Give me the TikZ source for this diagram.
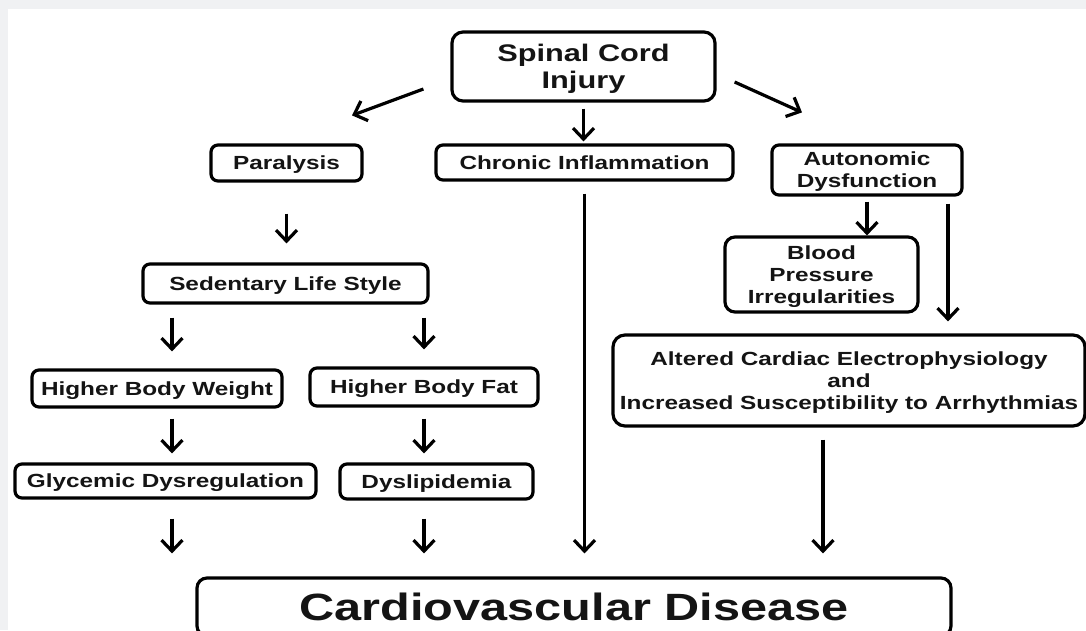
\documentclass[tikz,border=0pt]{standalone}
\usepackage{fontspec}
\setmainfont{Liberation Sans}[FakeStretch=1.28]
\usetikzlibrary{arrows.meta, positioning, calc}
\definecolor{pagegray}{RGB}{240,241,243}
\definecolor{inkgray}{RGB}{20,20,20}
\tikzset{
  causebox/.style={
    rectangle, rounded corners=7pt, draw=black, line width=3.2pt,
    inner sep=0pt, align=center, text=inkgray, text depth=0pt,
    font=\fontsize{19}{22}\selectfont\bfseries
  },
  causearrow/.style={-{Straight Barb[length=11pt,width=21pt]}, line width=3.2pt},
}

\begin{document}
\begin{tikzpicture}[x=1pt,y=-1pt]
  \useasboundingbox (0,0) rectangle (1086,630);
  \fill[pagegray] (0,0) rectangle (1086,630);
  \clip (0,0) rectangle (1086,630);
  \fill[white] (8,9) rectangle (1090,640);

  % arrow columns
  \coordinate (colA) at (172,0);
  \coordinate (colB) at (424,0);
  \coordinate (colD) at (823,0);
  \coordinate (colF) at (948,0);

  \node[causebox, rounded corners=11pt, minimum width=263pt, minimum height=69pt,
        font=\fontsize{24}{27}\selectfont\bfseries](sci)at(583.5,66.5){Spinal Cord\\Injury};
  \node[causebox, minimum width=151pt, minimum height=36pt](par)at(286.5,163)  {Paralysis};
  \node[causebox, minimum width=297pt, minimum height=35pt](chr)at(584.5,162.5){Chronic Inflammation};
  \node[causebox, minimum width=190pt, minimum height=50pt](aut)at(867,170)    {Autonomic\\Dysfunction};
  \node[causebox, rounded corners=10pt, minimum width=193pt, minimum height=75pt](bpi)at(821.5,274.5){Blood\\Pressure\\Irregularities};
  \node[causebox, rounded corners=12pt, minimum width=472pt, minimum height=91pt](alt)at(849,380.5)
       {Altered Cardiac Electrophysiology\\and\\Increased Susceptibility to Arrhythmias};
  \node[causebox, minimum width=285pt, minimum height=39pt](sed)at(285.5,283.5){Sedentary Life Style};
  \node[causebox, minimum width=250pt, minimum height=37pt](hbw)at(157,388.5)  {Higher Body Weight};
  \node[causebox, minimum width=228pt, minimum height=38pt](hbf)at(424,387)    {Higher Body Fat};
  \node[causebox, minimum width=301pt, minimum height=34pt](gly)at(165.5,481)  {Glycemic Dysregulation};
  \node[causebox, minimum width=193pt, minimum height=35pt](dys)at(436.5,481.5){Dyslipidemia};
  \node[causebox, rounded corners=10pt, minimum width=754pt, minimum height=58pt,
        font=\fontsize{38}{44}\selectfont\bfseries](cvd)at(574,607){Cardiovascular Disease};

  \draw[causearrow]($(sci.west)+(-27,22.5)$)--($(par.north)+(65.5,-28)$);
  \draw[causearrow]($(sci.east)+(18,15.5)$)--($(aut.north)+(-65,-31)$);
  \draw[causearrow,shorten <=6pt,shorten >=2pt](sci.south)--(sci.south |- chr.north);
  \draw[causearrow,shorten <=31pt,shorten >=19pt](par.south)--(par.south |- sed.north);
  \draw[causearrow,shorten <=12pt,shorten >=23pt](chr.south)--(chr.south |- cvd.north);
  \draw[causearrow,shorten <=5pt](aut.south)--(aut.south |- bpi.north);
  \draw[causearrow,shorten <=7pt,shorten >=12pt](colF |- aut.south)--(colF |- alt.north);
  \draw[causearrow,shorten <=12pt,shorten >=23pt](colD |- alt.south)--(colD |- cvd.north);
  \draw[causearrow,shorten <=13pt,shorten >=17pt](colA |- sed.south)--(colA |- hbw.north);
  \draw[causearrow,shorten <=13pt,shorten >=17pt](colB |- sed.south)--(colB |- hbf.north);
  \draw[causearrow,shorten <=10pt,shorten >=9pt](colA |- hbw.south)--(colA |- gly.north);
  \draw[causearrow,shorten <=11pt,shorten >=9pt](colB |- hbf.south)--(colB |- dys.north);
  \draw[causearrow,shorten <=19pt,shorten >=23pt](colA |- gly.south)--(colA |- cvd.north);
  \draw[causearrow,shorten <=18pt,shorten >=23pt](colB |- dys.south)--(colB |- cvd.north);
\end{tikzpicture}
\end{document}
